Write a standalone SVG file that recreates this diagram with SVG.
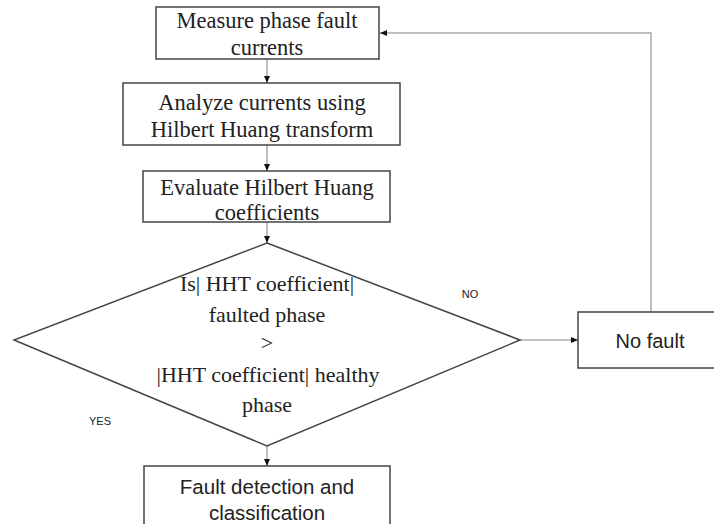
<svg xmlns="http://www.w3.org/2000/svg" width="714" height="524" viewBox="0 0 714 524">
<style>
.box{fill:#fff;stroke:#444;stroke-width:1.5}
.serif{font-family:"Liberation Serif","Times New Roman",serif;font-size:22.5px;fill:#222;text-anchor:middle}
.dia{font-size:22px}
.sans{font-family:"Liberation Sans",Arial,sans-serif;fill:#222;text-anchor:middle}
.conn{fill:none;stroke:#aaa;stroke-width:1.5}
</style>
<defs>
<marker id="ah" markerWidth="8" markerHeight="8" refX="7" refY="4" orient="auto" markerUnits="userSpaceOnUse">
<path d="M0,1 L7,4 L0,7 Z" fill="#111"/>
</marker>
</defs>
<rect width="714" height="524" fill="#fff"/>
<g id="connectors">
<line class="conn" x1="267" y1="59" x2="267" y2="83" marker-end="url(#ah)"/>
<line class="conn" x1="267" y1="145" x2="267" y2="171" marker-end="url(#ah)"/>
<line class="conn" x1="267" y1="222" x2="267" y2="243" marker-end="url(#ah)"/>
<line class="conn" x1="267" y1="446" x2="267" y2="466" marker-end="url(#ah)"/>
<line class="conn" x1="520" y1="340" x2="578" y2="340" marker-end="url(#ah)"/>
<polyline class="conn" points="651,312 651,33 380,33" marker-end="url(#ah)"/>
<text class="sans" x="470" y="298" font-size="11">NO</text>
<text class="sans" x="100" y="425" font-size="11">YES</text>
</g>
<g id="measure">
<rect class="box" x="156" y="7" width="223" height="52"/>
<text class="serif" x="267" y="28">Measure phase fault</text>
<text class="serif" x="267" y="55">currents</text>
</g>
<g id="analyze">
<rect class="box" x="123" y="83" width="277" height="62"/>
<text class="serif" x="262" y="110">Analyze currents using</text>
<text class="serif" x="262" y="137">Hilbert Huang transform</text>
</g>
<g id="evaluate">
<rect class="box" x="143" y="171" width="247" height="51"/>
<text class="serif" x="267" y="195">Evaluate Hilbert Huang</text>
<text class="serif" x="267" y="220">coefficients</text>
</g>
<g id="decision">
<polygon class="box" points="267,243 520,340 267,446 14,340"/>
<text class="serif dia" x="267" y="291">Is| HHT coefficient|</text>
<text class="serif dia" x="267" y="322">faulted phase</text>
<text class="serif dia" x="267" y="350">&gt;</text>
<text class="serif dia" x="268" y="382">|HHT coefficient| healthy</text>
<text class="serif dia" x="267" y="412">phase</text>
</g>
<g id="nofault">
<rect class="box" x="578" y="312" width="140" height="56"/>
<text class="sans" x="650" y="348" font-size="20">No fault</text>
</g>
<g id="detect">
<rect class="box" x="144" y="466" width="246" height="62"/>
<text class="sans" x="267" y="494" font-size="20.5">Fault detection and</text>
<text class="sans" x="267" y="520" font-size="20.5">classification</text>
</g>
</svg>
